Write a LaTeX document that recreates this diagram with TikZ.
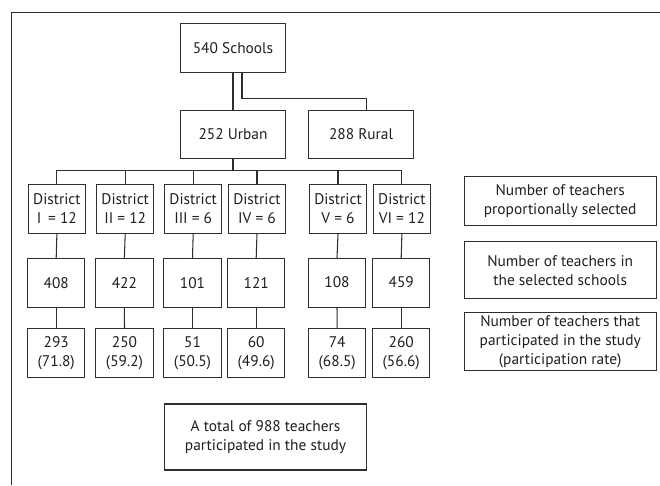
\documentclass[tikz,border=0pt]{standalone}
\usepackage{fontspec}
\setmainfont{PT Sans}
\begin{document}
\begin{tikzpicture}[x=1pt,y=-1pt,
  every node/.style={font=\fontsize{15.4}{19.3}\selectfont, text=black!88},
  box/.style={draw=black!82, line width=1.05pt, align=center, inner sep=0pt, minimum height=49pt},
  dbox/.style={box, minimum width=57.5pt},
  link/.style={draw=black!82, line width=1.05pt}]
\useasboundingbox (0,0) rectangle (660,485);
% partial frame
\draw[link] (660,12.3) -- (11.7,12.3) -- (11.7,485);
% top
\node[box, minimum width=105.4pt, minimum height=48.7pt] (sch) at (233,48.3) {540 Schools};
\node[box, minimum width=105.4pt, minimum height=48.3pt] (urb) at (233,134.2) {252 Urban};
\node[box, minimum width=105.4pt, minimum height=48.3pt] (rur) at (361,134.2) {288 Rural};
% districts
\node[dbox] (d1) at (56.9,208.8) {District\\I \,= 12};
\node[dbox] (d2) at (125.2,208.8) {District\\II = 12};
\node[dbox] (d3) at (193.2,208.8) {District\\III = 6};
\node[dbox] (d4) at (257,208.8) {District\\IV = 6};
\node[dbox] (d5) at (338,208.8) {District\\V = 6};
\node[dbox] (d6) at (401.9,208.8) {District\\VI = 12};
% teachers
\node[dbox] (t1) at (56.2,282.8) {408};
\node[dbox] (t2) at (124.4,282.8) {422};
\node[dbox] (t3) at (192.5,282.8) {101};
\node[dbox] (t4) at (256.2,282.8) {121};
\node[dbox] (t5) at (337,282.8) {\raisebox{2pt}{108}};
\node[dbox] (t6) at (401.2,282.8) {\raisebox{2pt}{459}};
% participants
\node[dbox] (p1) at (56.2,353) {293\\(71.8)};
\node[dbox] (p2) at (124.5,353) {250\\(59.2)};
\node[dbox] (p3) at (192.5,353) {51\\(50.5)};
\node[dbox] (p4) at (256.2,353) {60\\(49.6)};
\node[dbox] (p5) at (337.2,353) {74\\(68.5)};
\node[dbox] (p6) at (401.2,353) {260\\(56.6)};
% total
\node[box, minimum width=202.4pt, minimum height=66pt] (tot) at (265.5,437) {A total of 988 teachers\\participated in the study};
% legend
\node[box, minimum width=191.7pt, minimum height=48.6pt] (l1) at (560.2,201) {Number of teachers\\proportionally selected};
\node[box, minimum width=191.7pt, minimum height=57.3pt] (l2) at (560.2,270.3) {Number of teachers in\\the selected schools};
\node[box, minimum width=191.7pt, minimum height=58pt] (l3) at (560.2,341.7) {Number of teachers that\\participated in the study\\(participation rate)};
% connectors
\draw[link] (sch.south) -- (urb.north);
\coordinate (rb) at (0,98.7);
\draw[link] ([xshift=9pt]sch.south) -- ([xshift=9pt]sch.south |- rb) -- ([xshift=5.7pt]rur.north |- rb) -- ([xshift=5.7pt]rur.north);
\coordinate (bus) at (0,170.7);
\draw[link] (urb.south) -- (urb.south |- bus);
\draw[link] (d1.north) -- (d1.north |- bus) -- (d6.north |- bus) -- (d6.north);
\foreach \k in {2,3,4,5} {\draw[link] (d\k.north) -- (d\k.north |- bus);}
\foreach \k in {1,...,6} {\draw[link] (d\k.south) -- (t\k.north); \draw[link] (t\k.south) -- (p\k.north);}
\end{tikzpicture}
\end{document}
